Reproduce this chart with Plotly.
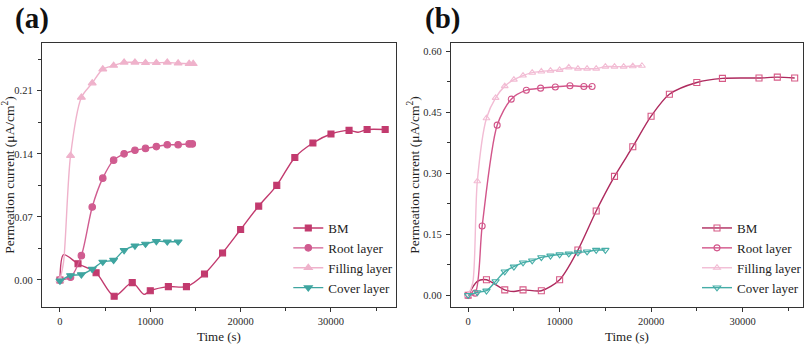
import plotly.graph_objects as go

# ---------------- Panel (a) data ----------------
# marked points
BM_A_T = [0, 2000, 4000, 6000, 8000, 10000, 12000, 14000, 16000, 18000, 20000, 22000, 24000, 26000, 28000, 30000, 32000, 34000, 36000]
BM_A_J = [0, 0.018, 0.008, -0.018, -0.003, -0.012, -0.0074, -0.0074, 0.0067, 0.030, 0.056, 0.082, 0.105, 0.136, 0.152, 0.162, 0.166, 0.167, 0.167]
# unmarked curve knots
BM_A_T_X = [400, 9300, 33000]
BM_A_J_X = [0.028, -0.016, 0.164]

ROOT_A_T = [0, 1170, 2370, 3570, 4740, 5940, 7100, 8300, 9470, 10670, 11880, 13080, 14300, 14650]
ROOT_A_J = [0, 0.003, 0.027, 0.081, 0.113, 0.133, 0.140, 0.144, 0.146, 0.148, 0.150, 0.150, 0.151, 0.151]

FILL_A_T = [0, 1170, 2370, 3570, 4740, 5940, 7100, 8300, 9470, 10670, 11880, 13080, 14300, 14750]
FILL_A_J = [0, 0.138, 0.2026, 0.2185, 0.234, 0.238, 0.2415, 0.2415, 0.2410, 0.2410, 0.2415, 0.2405, 0.2400, 0.2400]
FILL_A_T_X = [400]
FILL_A_J_X = [0.02]

COVER_A_T = [0, 1170, 2370, 3570, 4740, 5940, 7100, 8300, 9470, 10670, 11880, 13080]
COVER_A_J = [-0.001, 0.005, 0.006, 0.012, 0.020, 0.022, 0.033, 0.038, 0.040, 0.043, 0.0425, 0.0425]

# ---------------- Panel (b) data ----------------
BM_B_T = [0, 2000, 4000, 6000, 8000, 10000, 12000, 14000, 16000, 18000, 20000, 22000, 25000, 27800, 31800, 33800, 35700]
BM_B_J = [0, 0.038, 0.013, 0.013, 0.011, 0.038, 0.111, 0.207, 0.292, 0.365, 0.440, 0.494, 0.523, 0.533, 0.534, 0.536, 0.534]
BM_B_T_X = [1000, 5000]
BM_B_J_X = [0.034, 0.009]

ROOT_B_T = [0, 760, 1530, 3170, 4710, 6360, 7920, 9530, 11130, 12650, 13550]
ROOT_B_J = [0, 0.005, 0.170, 0.418, 0.482, 0.504, 0.509, 0.512, 0.515, 0.513, 0.513]

FILL_B_T = [0, 1000, 2000, 3000, 4000, 5000, 6000, 7000, 8000, 9000, 10000, 11000, 12000, 13000, 14000, 15000, 16000, 17000, 18000, 19000]
FILL_B_J = [0, 0.28, 0.435, 0.485, 0.514, 0.530, 0.540, 0.547, 0.550, 0.552, 0.554, 0.560, 0.557, 0.557, 0.557, 0.562, 0.562, 0.562, 0.563, 0.564]
FILL_B_T_X = [500]
FILL_B_J_X = [0.03]

COVER_B_T = [0, 1000, 2000, 3000, 4000, 5000, 6000, 7000, 8000, 9000, 10000, 11000, 12000, 13000, 14000, 15000]
COVER_B_J = [0, 0.007, 0.011, 0.034, 0.058, 0.070, 0.080, 0.085, 0.093, 0.097, 0.100, 0.102, 0.105, 0.107, 0.111, 0.111]

NAMES = ["BM", "Root layer", "Filling layer", "Cover layer"]
X_TICKS = [0, 10000, 20000, 30000]
Y_TICKS_A = [0, 0.07, 0.14, 0.21]
Y_TICKS_B = [0, 0.15, 0.30, 0.45, 0.60]

COL_A = ["#C23A6E", "#D05C90", "#EFB2CB", "#3FA5A0"]
COL_B = ["#AE2A5E", "#D2558A", "#F2BCD4", "#45ADA7"]
SYM_A = ["square", "circle", "triangle-up", "triangle-down"]
SYM_B = ["square-open", "circle-open", "triangle-up-open", "triangle-down-open"]

FONT = "Liberation Serif, Times New Roman, serif"

fig = go.Figure()


def add_series(t, j, tx, jx, name, color, sym, msize, xa, ya, legend, mcolor=None):
    pts = sorted(list(zip(t, j)) + list(zip(tx, jx)))
    fig.add_trace(go.Scatter(
        x=[p[0] for p in pts], y=[p[1] for p in pts], mode="lines",
        line=dict(color=color, width=1.4, shape="spline", smoothing=0.8),
        xaxis=xa, yaxis=ya, showlegend=False, hoverinfo="skip"))
    mc = mcolor or color
    fig.add_trace(go.Scatter(
        x=t, y=j, mode="markers",
        marker=dict(symbol=sym, size=msize, color=mc, line=dict(color=mc, width=1.1)),
        xaxis=xa, yaxis=ya, showlegend=False))
    fig.add_trace(go.Scatter(
        x=[None], y=[None], mode="lines+markers", name=name,
        line=dict(color=color, width=1.4),
        marker=dict(symbol=sym, size=msize, color=mc, line=dict(color=mc, width=1.1)),
        xaxis=xa, yaxis=ya, legend=legend))


series_a = [
    (BM_A_T, BM_A_J, BM_A_T_X, BM_A_J_X),
    (ROOT_A_T, ROOT_A_J, [], []),
    (FILL_A_T, FILL_A_J, FILL_A_T_X, FILL_A_J_X),
    (COVER_A_T, COVER_A_J, [], []),
]
series_b = [
    (BM_B_T, BM_B_J, BM_B_T_X, BM_B_J_X),
    (ROOT_B_T, ROOT_B_J, [], []),
    (FILL_B_T, FILL_B_J, FILL_B_T_X, FILL_B_J_X),
    (COVER_B_T, COVER_B_J, [], []),
]
msize_a = [6, 6.5, 7, 7]
msize_b = [6, 6, 6, 6.5]
mcol_b = ["#D65A86", None, None, None]
for i, (t, j, tx, jx) in enumerate(series_a):
    add_series(t, j, tx, jx, NAMES[i], COL_A[i], SYM_A[i], msize_a[i], "x", "y", "legend")
for i, (t, j, tx, jx) in enumerate(series_b):
    add_series(t, j, tx, jx, NAMES[i], COL_B[i], SYM_B[i], msize_b[i], "x2", "y2", "legend2", mcol_b[i])

W, H = 807, 346


def px_x(p):
    return p / W


def px_y(p):
    return 1 - p / H


axis_common = dict(
    showline=True, mirror=True, linecolor="#333", linewidth=1.1,
    ticks="outside", ticklen=4, tickwidth=1, tickcolor="#333",
    showgrid=False, zeroline=False,
    tickfont=dict(family=FONT, size=10.5, color="#2a2a2a"),
)
minor_x = dict(ticks="outside", ticklen=2.5, tickcolor="#333", dtick=5000, tick0=0)
xtitle = dict(text="Time (s)", font=dict(family=FONT, size=13, color="#222"), standoff=6)
ytitle = dict(text="Permeation current (μA/cm<sup>2</sup>)", font=dict(family=FONT, size=13.5, color="#222"), standoff=0)

ydom = [px_y(307), px_y(43)]

fig.update_layout(
    width=W, height=H,
    margin=dict(l=0, r=0, t=0, b=0),
    paper_bgcolor="white", plot_bgcolor="white",
    font=dict(family=FONT, color="#222"),
    xaxis=dict(axis_common, domain=[px_x(42), px_x(397)], range=[-2000, 37200],
               tickvals=X_TICKS, tickformat="d", minor=minor_x, title=xtitle, anchor="y"),
    yaxis=dict(axis_common, domain=ydom, range=[-0.030, 0.263],
               tickvals=Y_TICKS_A, tickformat=".2f", ticklabelstandoff=2,
               minor=dict(ticks="outside", ticklen=2.5, tickcolor="#333", dtick=0.035, tick0=0),
               title=ytitle, anchor="x"),
    xaxis2=dict(axis_common, domain=[px_x(452), px_x(805)], range=[-1890, 36610],
                tickvals=X_TICKS, tickformat="d", minor=minor_x, title=xtitle, anchor="y2"),
    yaxis2=dict(axis_common, domain=ydom, range=[-0.029, 0.62],
                tickvals=Y_TICKS_B, tickformat=".2f", ticklabelstandoff=2,
                minor=dict(ticks="outside", ticklen=2.5, tickcolor="#333", dtick=0.075, tick0=0),
                title=ytitle, anchor="x2"),
    legend=dict(x=px_x(289), y=px_y(303), xanchor="left", yanchor="bottom",
                bgcolor="rgba(0,0,0,0)", font=dict(family=FONT, size=13, color="#222"),
                tracegroupgap=0, itemsizing="trace"),
    legend2=dict(x=px_x(699), y=px_y(303), xanchor="left", yanchor="bottom",
                 bgcolor="rgba(0,0,0,0)", font=dict(family=FONT, size=13, color="#222"),
                 tracegroupgap=0, itemsizing="trace"),
    annotations=[
        dict(text="<b>(a)</b>", x=px_x(32), y=px_y(0), xref="paper", yref="paper",
             xanchor="center", yanchor="top", showarrow=False,
             font=dict(family=FONT, size=29, color="#111")),
        dict(text="<b>(b)</b>", x=px_x(444), y=px_y(0), xref="paper", yref="paper",
             xanchor="center", yanchor="top", showarrow=False,
             font=dict(family=FONT, size=29, color="#111")),
    ],
)

fig.write_html("out.html")
